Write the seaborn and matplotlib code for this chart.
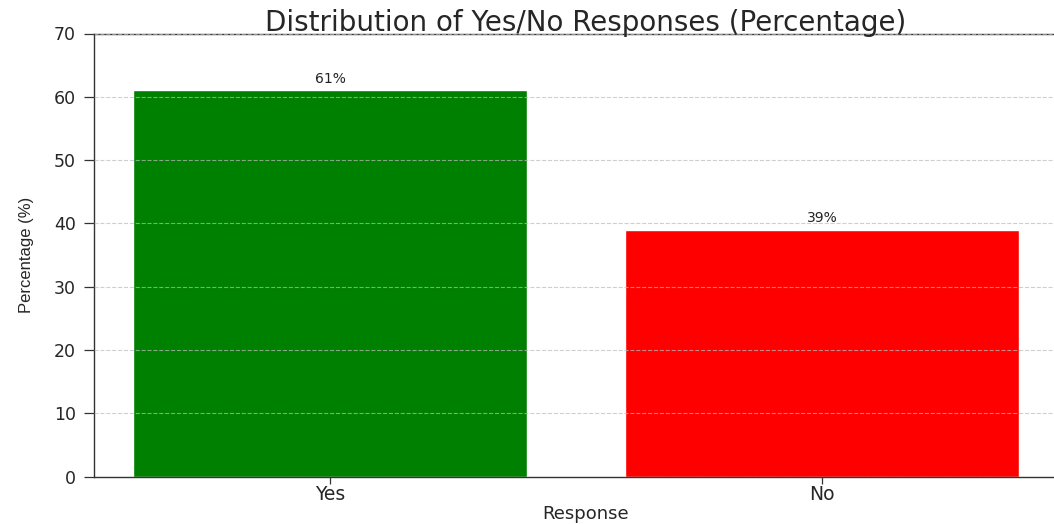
import matplotlib
matplotlib.use("Agg")
import matplotlib.pyplot as plt
import seaborn as sns
import pandas as pd

# Survey responses as percentages
responses = ["Yes", "No"]
percentages = [61, 39]
bar_colors = ["green", "red"]

df = pd.DataFrame({"Response": responses, "Percentage": percentages})

sns.set_style("white")
plt.rcParams["font.family"] = ["DejaVu Sans"]

fig = plt.figure(figsize=(10.54, 5.24), dpi=100)
W, H = 1054, 524
ax = fig.add_axes([94 / W, 1 - 476.7 / H, 984 / W, (476.7 - 33.5) / H])

sns.barplot(data=df, x="Response", y="Percentage", hue="Response",
            palette=bar_colors, width=0.8, saturation=1, legend=False, ax=ax)

ax.set_ylim(0, 70)
ax.set_xlim(-0.48, 1.52)
ax.set_yticks(range(0, 71, 10))
ax.yaxis.grid(True, linestyle="--", color="#bbbbbb", alpha=0.7, linewidth=0.8)
ax.set_axisbelow(False)

for i, v in enumerate(percentages):
    ax.text(i, v + 0.7, f"{v}%", ha="center", va="bottom", fontsize=10, color="#222222")

ax.set_title("Distribution of Yes/No Responses (Percentage)", fontsize=20, pad=2)
ax.set_xlabel("Response", fontsize=13, labelpad=1)
ax.set_ylabel("Percentage (%)", fontsize=12, labelpad=14,
              family=["Liberation Sans Narrow", "Liberation Sans", "DejaVu Sans"])
ax.tick_params(axis="y", labelsize=12.5, length=7, width=0.9, color="#333333",
               left=True, pad=6)
ax.tick_params(axis="x", labelsize=13.5, length=5, width=0.9, color="#333333",
               bottom=True, pad=1)

for side in ["left", "bottom", "top", "right"]:
    ax.spines[side].set_visible(True)
    ax.spines[side].set_color("#333333")
    ax.spines[side].set_linewidth(1.0)

fig.savefig("out.png", dpi=100)
